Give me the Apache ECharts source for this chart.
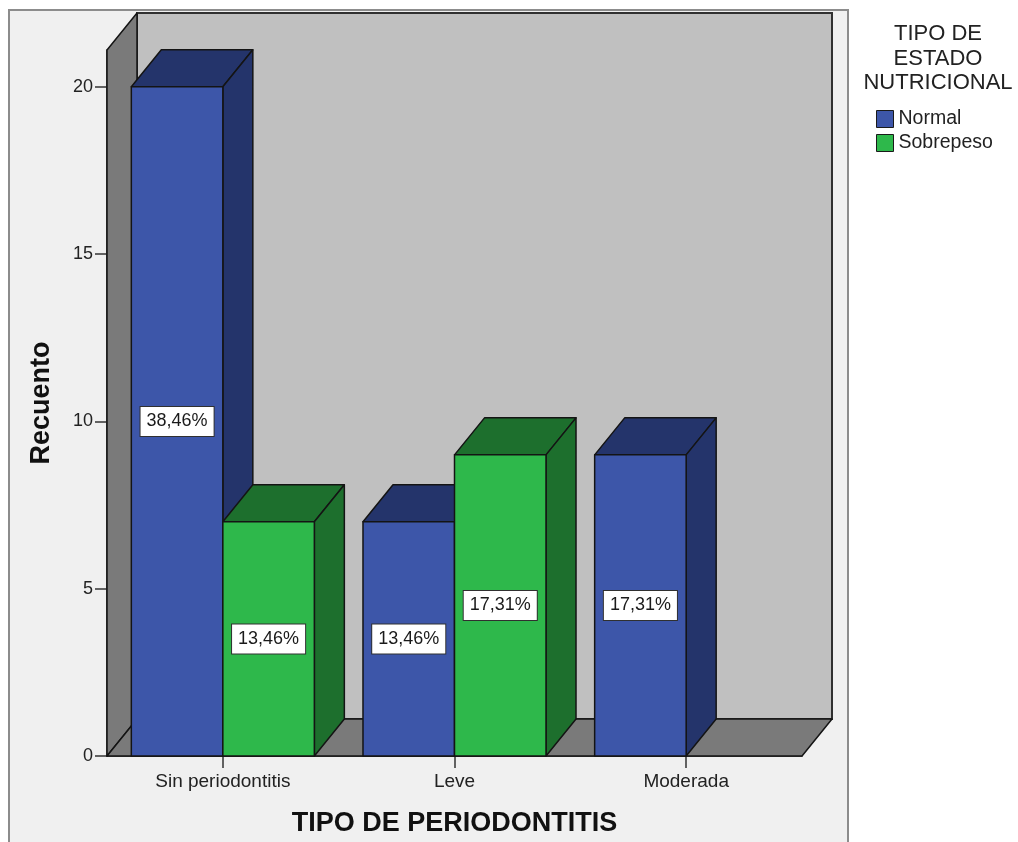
<!DOCTYPE html>
<html><head><meta charset="utf-8">
<script src="https://cdn.jsdelivr.net/npm/echarts@6/dist/echarts.min.js"></script>
<style>html,body{margin:0;padding:0;background:#fff}#c{width:1018px;height:842px}</style>
</head><body><div id="c"></div>
<script>
const categories = ['Sin periodontitis', 'Leve', 'Moderada'];
const normalCounts = [20, 7, 9];
const sobrepesoCounts = [7, 9, 0];
const normalPct = ['38,46%', '13,46%', '17,31%'];
const sobrepesoPct = ['13,46%', '17,31%', ''];
const yTicks = [0, 5, 10, 15, 20];
const yMax = 21.1;

const FONT = '"Liberation Sans", Arial, sans-serif';
const DX = 30, DY = -37;
const BAR_FRAC = 0.395;
const EDGE = '#141414';
const BLUE = '#3d56a9', BLUE_D = '#24346b';
const GREEN = '#2eb84b', GREEN_D = '#1d6f2d';

function faceStyle(fill) { return { fill: fill, stroke: EDGE, lineWidth: 1.5, lineJoin: 'round' }; }

function barRender(pos, front, dark, labels) {
  return function (params, api) {
    const ci = api.value(0), v = api.value(1);
    if (!v) return null;
    const band = api.size([1, 0])[0];
    const bw = band * BAR_FRAC;
    const c = api.coord([ci, v]);
    const b = api.coord([ci, 0]);
    const x0 = pos === 0 ? c[0] - bw : c[0];
    const x1 = x0 + bw, top = c[1], base = b[1];
    return {
      type: 'group', children: [
        { type: 'polygon', shape: { points: [[x0, top], [x0 + DX, top + DY], [x1 + DX, top + DY], [x1, top]] }, style: faceStyle(dark) },
        { type: 'polygon', shape: { points: [[x1, top], [x1 + DX, top + DY], [x1 + DX, base + DY], [x1, base]] }, style: faceStyle(dark) },
        { type: 'rect', shape: { x: x0, y: top, width: bw, height: base - top }, style: faceStyle(front) },
        { type: 'text', x: (x0 + x1) / 2, y: (top + base) / 2, style: {
            text: labels[params.dataIndex], align: 'center', verticalAlign: 'middle',
            fontSize: 18, fontFamily: FONT, fill: '#1a1a1a', backgroundColor: '#ffffff',
            borderColor: '#303030', borderWidth: 1, padding: [6, 6, 5, 6] } }
      ]
    };
  };
}

function wallRender(params, api) {
  const band = api.size([1, 0])[0];
  const xl = api.coord([0, 0])[0] - band / 2;
  const xr = api.coord([categories.length - 1, 0])[0] + band / 2;
  const yb = api.coord([0, 0])[1];
  const yt = api.coord([0, yMax])[1];
  return {
    type: 'group', children: [
      { type: 'rect', shape: { x: xl + DX, y: yt + DY, width: xr - xl, height: yb - yt }, style: { fill: '#c0c0c0', stroke: '#303030', lineWidth: 2 } },
      { type: 'polygon', shape: { points: [[xl, yb], [xl + DX, yb + DY], [xl + DX, yt + DY], [xl, yt]] }, style: faceStyle('#7a7a7a') },
      { type: 'polygon', shape: { points: [[xl, yb], [xr, yb], [xr + DX, yb + DY], [xl + DX, yb + DY]] }, style: faceStyle('#7a7a7a') }
    ]
  };
}

const chart = echarts.init(document.getElementById('c'), null, { renderer: 'canvas' });
chart.setOption({
  backgroundColor: '#ffffff',
  animation: false,
  textStyle: { fontFamily: FONT },
  graphic: [
    { type: 'rect', z: -10, shape: { x: 9, y: 10, width: 839, height: 845 }, style: { fill: '#f0f0f0', stroke: '#8c8c8c', lineWidth: 2 } },
    { type: 'text', z: 10, x: 938, y: 22, style: { text: 'TIPO DE\nESTADO\nNUTRICIONAL', align: 'center', fontSize: 22, lineHeight: 24.5, fontFamily: FONT, fill: '#222' } }
  ],
  legend: {
    orient: 'vertical', left: 876, top: 109, itemWidth: 17, itemHeight: 17, itemGap: 4, padding: 0,
    icon: 'rect', data: ['Normal', 'Sobrepeso'],
    itemStyle: { borderColor: '#1a1a1a', borderWidth: 1 },
    textStyle: { fontSize: 19.5, color: '#222', fontFamily: FONT }
  },
  grid: { left: 107, right: 216, top: 50, bottom: 85, containLabel: false },
  xAxis: {
    type: 'category', data: categories, boundaryGap: true,
    axisLine: { show: true, lineStyle: { color: '#141414', width: 1.5 } },
    axisTick: { show: true, alignWithLabel: true, length: 12, lineStyle: { color: '#333', width: 1.5 } },
    axisLabel: { fontSize: 19, color: '#222', margin: 16, fontFamily: FONT },
    name: 'TIPO DE PERIODONTITIS', nameLocation: 'middle', nameGap: 54,
    nameTextStyle: { fontSize: 27, fontWeight: 'bold', color: '#111', fontFamily: FONT },
    splitLine: { show: false }
  },
  yAxis: {
    type: 'value', min: 0, max: yMax, interval: 5,
    axisLine: { show: true, lineStyle: { color: '#141414', width: 1.5 } },
    axisTick: { show: true, length: 12, customValues: yTicks, lineStyle: { color: '#333', width: 1.5 } },
    axisLabel: { fontSize: 18, color: '#222', margin: 14, customValues: yTicks, fontFamily: FONT },
    name: 'Recuento', nameLocation: 'middle', nameGap: 52, nameRotate: 90,
    nameTextStyle: { fontSize: 27, fontWeight: 'bold', color: '#111', fontFamily: FONT },
    splitLine: { show: false }
  },
  series: [
    { type: 'custom', name: 'walls', z: 1, silent: true, data: [[0, 0]], renderItem: wallRender },
    { type: 'custom', name: 'Normal', z: 3, silent: true, itemStyle: { color: BLUE },
      data: categories.map((c, i) => [i, normalCounts[i]]), renderItem: barRender(0, BLUE, BLUE_D, normalPct) },
    { type: 'custom', name: 'Sobrepeso', z: 4, silent: true, itemStyle: { color: GREEN },
      data: categories.map((c, i) => [i, sobrepesoCounts[i]]), renderItem: barRender(1, GREEN, GREEN_D, sobrepesoPct) }
  ]
});
</script></body></html>
